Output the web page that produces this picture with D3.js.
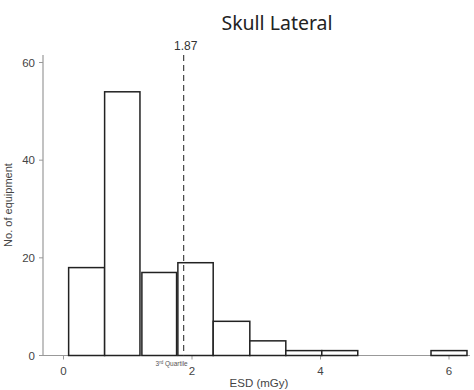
<!DOCTYPE html>
<html>
<head>
<meta charset="utf-8">
<script src="https://cdn.jsdelivr.net/npm/d3@7"></script>
<style>
  body { margin: 0; background: #fff; }
  text { font-family: "Liberation Sans", Arial, sans-serif; }
</style>
</head>
<body>
<svg id="chart" width="474" height="390"></svg>
<script>
// histogram bins (ESD, mGy) and counts
const binStart = [0.08, 0.64, 1.22, 1.78, 2.33, 2.90, 3.46, 4.02, 5.72];
const binEnd   = [0.64, 1.19, 1.76, 2.33, 2.90, 3.46, 4.02, 4.58, 6.28];
const counts   = [18, 54, 17, 19, 7, 3, 1, 1, 1];
const xTicks = [0, 2, 4, 6];
const yTicks = [0, 20, 40, 60];
const quartile = 1.87;

const svg = d3.select('#chart');

const x = d3.scaleLinear().domain([0, 6]).range([63.5, 449]);
const y = d3.scaleLinear().domain([0, 60]).range([355.5, 62.5]);
const axisColor = '#999';

// axes lines
svg.append('line')
  .attr('x1', 43).attr('x2', 43)
  .attr('y1', 55).attr('y2', y(0))
  .attr('stroke', axisColor).attr('stroke-width', 1.2);
svg.append('line')
  .attr('x1', 43).attr('x2', 470)
  .attr('y1', y(0)).attr('y2', y(0))
  .attr('stroke', axisColor).attr('stroke-width', 1.2);

// y ticks
const yg = svg.append('g');
yg.selectAll('line').data(yTicks).join('line')
  .attr('x1', 39).attr('x2', 43)
  .attr('y1', d => y(d)).attr('y2', d => y(d))
  .attr('stroke', axisColor);
yg.selectAll('text').data(yTicks).join('text')
  .attr('x', 35).attr('y', d => y(d))
  .attr('dy', '0.35em')
  .attr('text-anchor', 'end')
  .attr('font-size', 11.5)
  .attr('fill', '#444')
  .text(d => d);

// x ticks
const xg = svg.append('g');
xg.selectAll('line').data(xTicks).join('line')
  .attr('x1', d => x(d)).attr('x2', d => x(d))
  .attr('y1', y(0)).attr('y2', y(0) + 4)
  .attr('stroke', axisColor);
xg.selectAll('text').data(xTicks).join('text')
  .attr('x', d => x(d)).attr('y', y(0) + 19)
  .attr('text-anchor', 'middle')
  .attr('font-size', 11.5)
  .attr('fill', '#444')
  .text(d => d);

// bars
svg.append('g').selectAll('rect')
  .data(counts)
  .join('rect')
    .attr('x', (d, i) => x(binStart[i]))
    .attr('width', (d, i) => x(binEnd[i]) - x(binStart[i]))
    .attr('y', d => y(d))
    .attr('height', d => y(0) - y(d))
    .attr('fill', '#fff')
    .attr('stroke', '#222')
    .attr('stroke-width', 1.5);

// 3rd quartile line
svg.append('line')
  .attr('x1', x(quartile)).attr('x2', x(quartile))
  .attr('y1', 55).attr('y2', y(0))
  .attr('stroke', '#444')
  .attr('stroke-width', 1.2)
  .attr('stroke-dasharray', '6,4');
svg.append('text')
  .attr('x', x(quartile) + 2).attr('y', 50)
  .attr('text-anchor', 'middle')
  .attr('font-size', 12)
  .attr('fill', '#333')
  .text(quartile.toFixed(2));

const q = svg.append('text')
  .attr('x', x(quartile) - 12).attr('y', 366)
  .attr('text-anchor', 'middle')
  .attr('font-size', 6.5)
  .attr('fill', '#555');
q.append('tspan').text('3');
q.append('tspan').attr('font-size', 4.5).attr('dy', -2).text('rd');
q.append('tspan').attr('dy', 2).text(' Quartile');

// titles
svg.append('text')
  .attr('x', 277).attr('y', 30)
  .attr('text-anchor', 'middle')
  .attr('font-size', 19.5)
  .attr('fill', '#222')
  .style('font-family', '"Noto Sans", sans-serif')
  .text('Skull Lateral');

svg.append('text')
  .attr('x', 259).attr('y', 387)
  .attr('text-anchor', 'middle')
  .attr('font-size', 11.5)
  .attr('fill', '#444')
  .text('ESD (mGy)');

svg.append('text')
  .attr('transform', 'translate(12,205) rotate(-90)')
  .attr('text-anchor', 'middle')
  .attr('font-size', 11)
  .attr('fill', '#444')
  .text('No. of equipment');
</script>
</body>
</html>
